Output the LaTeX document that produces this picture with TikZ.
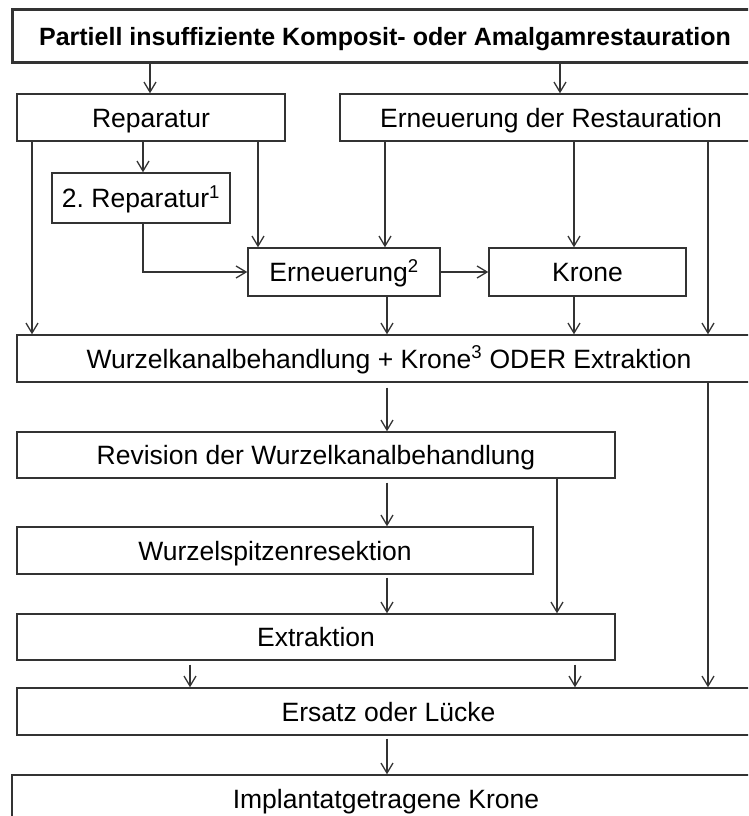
\documentclass[tikz,border=0pt]{standalone}
\usepackage{fontspec}
\setmainfont{Liberation Sans}
\usetikzlibrary{arrows.meta,calc}
\definecolor{ln}{HTML}{333333}
\frenchspacing
\tikzset{
  box/.style={draw=ln, line width=1.4pt, rectangle, inner sep=0pt, align=center,
     font=\fontsize{26.5}{30}\selectfont, text=black, text height=19pt, text depth=0pt},
  topbox/.style={box, line width=3pt, font=\fontsize{25}{29}\selectfont\bfseries, text height=18pt},
  arr/.style={draw=ln, line width=1.3pt, -{Straight Barb[length=10pt,width=12pt,line width=1.3pt]}},
}
\begin{document}
\begin{tikzpicture}[x=1pt,y=-1pt]
\clip (0,0) rectangle (748,816);
\fill[white] (0,0) rectangle (748,816);
\node[topbox, minimum width=746pt, minimum height=53pt] (top) at (385,36.5) {Partiell insuffiziente Komposit- oder Amalgamrestauration};
\node[box, minimum width=268pt, minimum height=47pt] (rep) at (151,117.5) {Reparatur};
\node[box, minimum width=422pt, minimum height=47pt] (edr) at (551,117.5) {Erneuerung der Restauration};
\node[box, minimum width=178pt, minimum height=50pt] (rep2) at (141,198) {2.\ Reparatur\textsuperscript{1}};
\node[box, minimum width=192pt, minimum height=48pt] (ern2) at (344,272) {Erneuerung\textsuperscript{2}};
\node[box, minimum width=197pt, minimum height=48pt] (krone) at (587.5,272) {Krone};
\node[box, minimum width=744pt, minimum height=47pt] (wkb) at (389,358.5) {Wurzelkanalbehandlung + Krone\textsuperscript{3} ODER Extraktion};
\node[box, minimum width=598pt, minimum height=46pt] (rev) at (316,455) {Revision der Wurzelkanalbehandlung};
\node[box, minimum width=516pt, minimum height=47pt] (wsr) at (275,550.5) {Wurzelspitzenresektion};
\node[box, minimum width=598pt, minimum height=46pt] (ext) at (316,637) {Extraktion};
\node[box, minimum width=743pt, minimum height=47pt] (ers) at (388.5,711.5) {Ersatz oder Lücke};
\node[box, minimum width=748pt, minimum height=47pt] (imp) at (386,798.5) {Implantatgetragene Krone};

\draw[arr] (top.south -| 150,0) -- (rep.north -| 150,0);
\draw[arr] (top.south -| 560,0) -- (edr.north -| 560,0);
\draw[arr] (rep.south -| 32,0) -- (wkb.north -| 32,0);
\draw[arr] (rep.south -| 143,0) -- (rep2.north -| 143,0);
\draw[arr] (rep.south -| 258,0) -- (ern2.north -| 258,0);
\draw[arr] (rep2.south -| 143,0) |- (ern2.west);
\draw[arr] (edr.south -| 385,0) -- (ern2.north -| 385,0);
\draw[arr] (edr.south -| 574,0) -- (krone.north -| 574,0);
\draw[arr] (edr.south -| 708,0) -- (wkb.north -| 708,0);
\draw[arr] (ern2.east) -- (krone.west);
\draw[arr] (ern2.south -| 387,0) -- (wkb.north -| 387,0);
\draw[arr] (krone.south -| 574,0) -- (wkb.north -| 574,0);
\draw[arr, shorten <=5pt] (wkb.south -| 387,0) -- (rev.north -| 387,0);
\draw[arr] (wkb.south -| 708,0) -- (ers.north -| 708,0);
\draw[arr, shorten <=4pt] (rev.south -| 387,0) -- (wsr.north -| 387,0);
\draw[arr] (rev.south -| 557,0) -- (ext.north -| 557,0);
\draw[arr, shorten <=3pt] (wsr.south -| 387,0) -- (ext.north -| 387,0);
\draw[arr, shorten <=4pt] (ext.south -| 190,0) -- (ers.north -| 190,0);
\draw[arr, shorten <=4pt] (ext.south -| 575,0) -- (ers.north -| 575,0);
\draw[arr, shorten <=3pt] (ers.south -| 387,0) -- (imp.north -| 387,0);
\end{tikzpicture}
\end{document}
